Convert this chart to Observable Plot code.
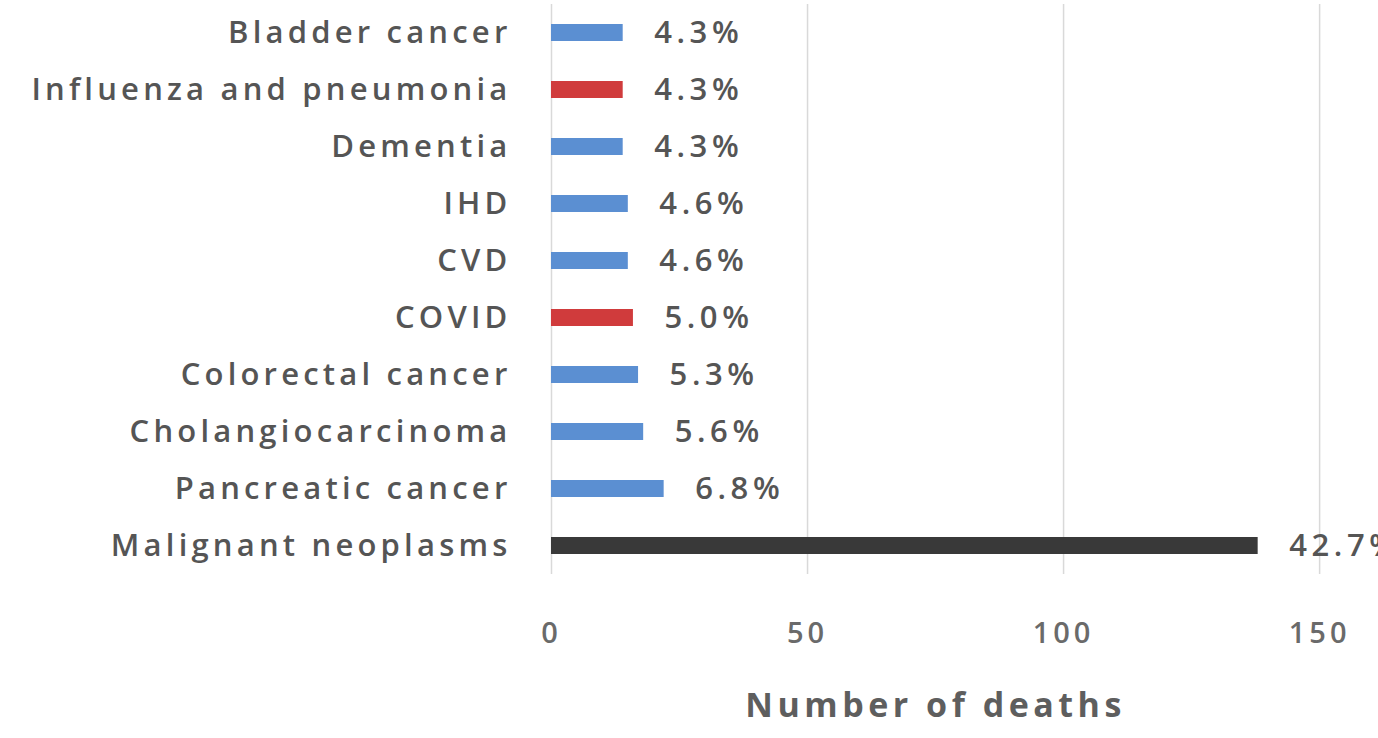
<!DOCTYPE html>
<html><head><meta charset="utf-8">
<script src="https://cdn.jsdelivr.net/npm/d3@7"></script>
<script src="https://cdn.jsdelivr.net/npm/@observablehq/plot@0.6"></script>
<style>
body{margin:0;background:#fff;overflow:hidden}
.ylab text {letter-spacing:4.2px}
.vlab text {letter-spacing:4.6px}
.xlab text {letter-spacing:4px}
.xtitle text {letter-spacing:4.5px}
</style>
</head><body><div id="chart"></div>
<script>
const causes = ["Bladder cancer","Influenza and pneumonia","Dementia","IHD","CVD","COVID","Colorectal cancer","Cholangiocarcinoma","Pancreatic cancer","Malignant neoplasms"];
const deaths = [14,14,14,15,15,16,17,18,22,138];
const percents = ["4.3%","4.3%","4.3%","4.6%","4.6%","5.0%","5.3%","5.6%","6.8%","42.7%"];
const groups = ["specific","infectious","specific","specific","specific","infectious","specific","specific","specific","overall"];
const xTicks = [0,50,100,150];
const xTitle = "Number of deaths";

const data = causes.map((c,i)=>({cause:c, deaths:deaths[i], pct:percents[i], group:groups[i]}));
const font = "'Open Sans', 'Noto Sans', sans-serif";
const chart = Plot.plot({
  width: 1378, height: 738,
  marginLeft: 551, marginRight: 0, marginTop: 4, marginBottom: 164,
  style: {fontFamily: font, background: "#fff", fontWeight: 600},
  x: {domain: [0, 161.5], axis: null},
  y: {domain: causes, paddingInner: 0.7, paddingOuter: 0.35, axis: null},
  color: {domain: ["specific","infectious","overall"], range: ["#5b8fd2","#d03b3c","#393939"]},
  marks: [
    Plot.gridX(xTicks, {stroke: "#d9d9d9", strokeOpacity: 1, strokeWidth: 1.5}),
    Plot.barX(data, {y: "cause", x: "deaths", fill: "group"}),
    Plot.text(data, {y: "cause", x: "deaths", text: "pct", textAnchor: "start", dx: 31, fontSize: 31, fill: "#555", className: "vlab"}),
    Plot.axisY({tickSize: 0, tickPadding: 40, fontSize: 31, color: "#555", label: null, className: "ylab"}),
    Plot.axisX(xTicks, {tickSize: 0, tickPadding: 0, dy: 48, fontSize: 29, color: "#6a6a6a", label: null, className: "xlab"}),
    Plot.text([xTitle], {frameAnchor: "bottom", x: 75, dy: 132, lineAnchor: "middle", fontSize: 34, fontWeight: "bold", fill: "#5e5e5e", className: "xtitle"})
  ]
});
document.getElementById("chart").append(chart);
</script></body></html>
